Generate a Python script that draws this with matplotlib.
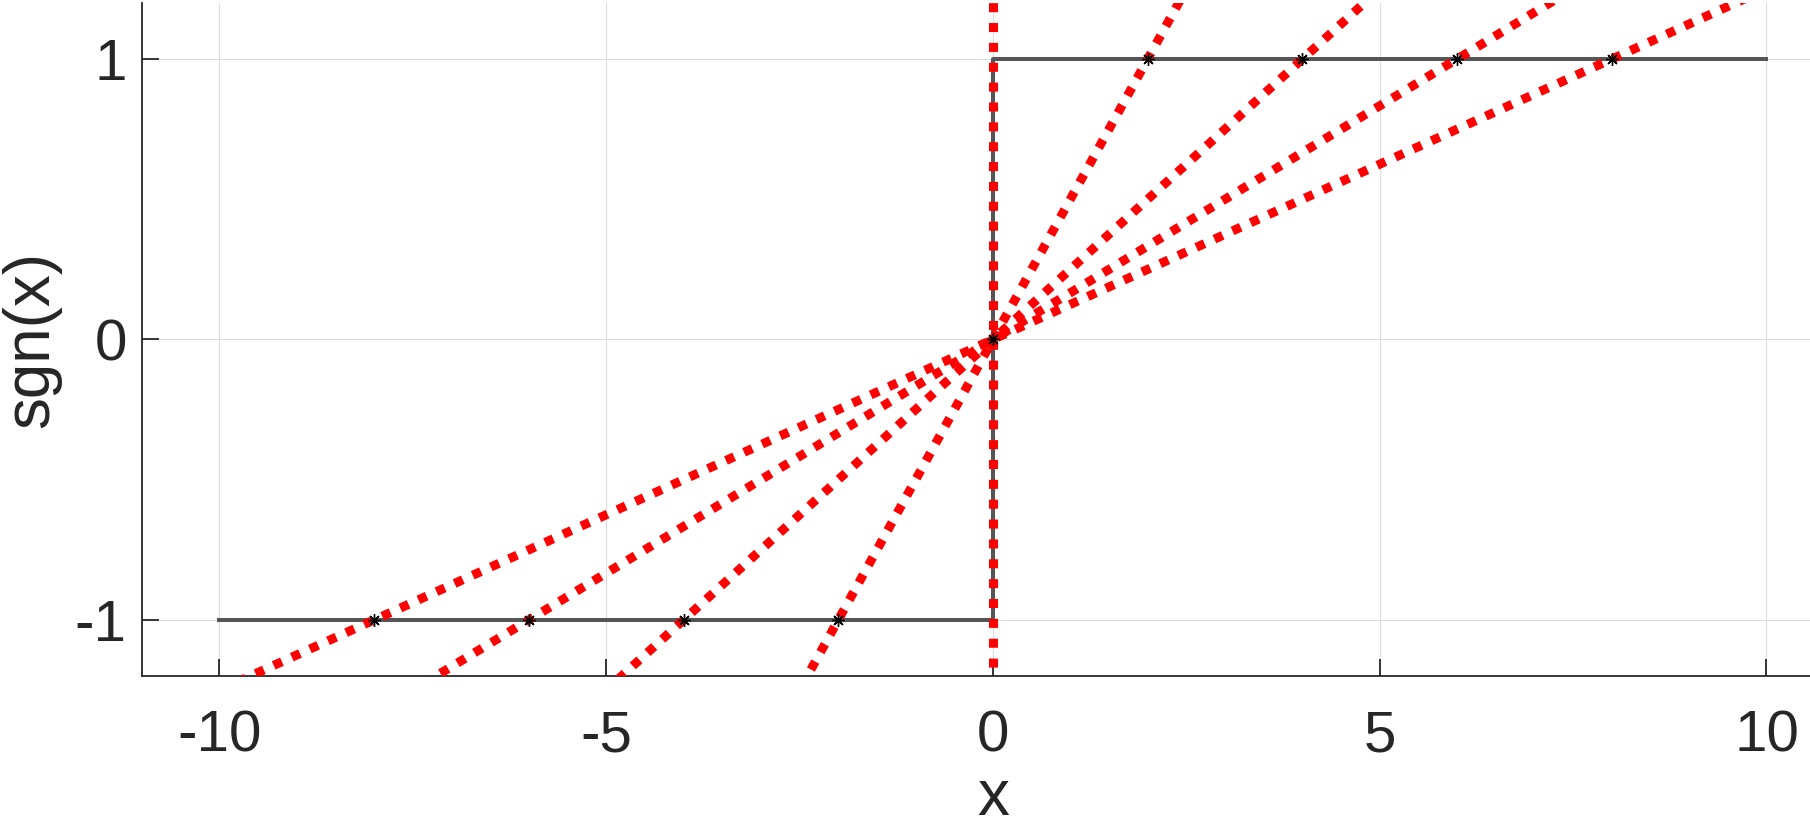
import numpy as np
import matplotlib
matplotlib.use("Agg")
import matplotlib.pyplot as plt

# sign function as a step
step_x = [-10, 0, 0, 10]
step_y = [-1, -1, 1, 1]

# sample points on sgn(x)
pts_x = [-8, -6, -4, -2, 0, 2, 4, 6, 8]
pts_y = [-1, -1, -1, -1, 0, 1, 1, 1, 1]

# secant lines through the origin and (k, 1)
secant_k = [2, 4, 6, 8]
line_x = [-10, 10]

plt.rcParams['font.family'] = ['Liberation Sans', 'DejaVu Sans']
txt = '#262626'

fig = plt.figure(figsize=(18.1, 8.25), dpi=100)
# axes runs past the right edge of the figure (xlim -11..11)
ax = fig.add_axes([0.0785, 0.1806, 0.9402, 0.9964 - 0.1806])

ax.plot(step_x, step_y, color='#555555', lw=2.9, zorder=2)

for k in secant_k:
    ys = [xx / k for xx in line_x]
    ax.plot(line_x, ys, color='red', lw=6.5, linestyle=(0, (1, 1.2)), zorder=3)
ax.plot([0, 0], [-2, 2], color='red', lw=6.5, linestyle=(0, (1, 1.2)), zorder=3)

ax.plot(pts_x, pts_y, linestyle='none', marker=(8, 2, 0), color='black',
        markersize=9, mew=1.0, zorder=4)

ax.set_xlim(-11, 11)
ax.set_ylim(-1.2, 1.2)
ax.set_xticks([-10, -5, 0, 5, 10])
ax.set_yticks([-1, 0, 1])
ax.set_xticklabels(['-10', '-5', '0', '5', '10'])
ax.set_yticklabels(['-1', '0', '1'])

ax.grid(True, color='#dddddd', lw=0.8, zorder=0)
ax.set_axisbelow(True)
for s in ['top', 'right']:
    ax.spines[s].set_visible(False)
for s in ['left', 'bottom']:
    ax.spines[s].set_color(txt)
    ax.spines[s].set_linewidth(1.3)

ax.tick_params(direction='in', length=12, width=1.3, color=txt,
               labelsize=42, labelcolor=txt)
ax.tick_params(axis='x', pad=24)
ax.tick_params(axis='y', pad=11)
ax.set_xlabel('x', fontsize=46, color=txt, labelpad=3)
ax.set_ylabel('sgn(x)', fontsize=46, color=txt, labelpad=10)

fig.savefig('out.png', dpi=100)
